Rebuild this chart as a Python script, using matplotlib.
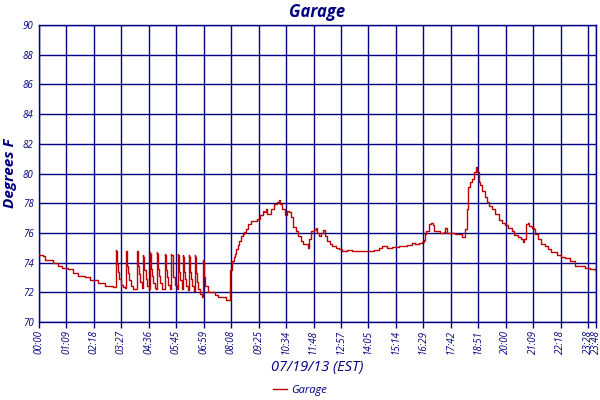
import matplotlib
matplotlib.use("Agg")
import matplotlib.pyplot as plt

NAVY = "#000080"
RED = "#c00000"

# tick labels (one tick every 69 one-minute samples, last at sample 1400)
tick_labels = ["00:00", "01:09", "02:18", "03:27", "04:36", "05:45", "06:59",
               "08:08", "09:25", "10:34", "11:48", "12:57", "14:05", "15:14",
               "16:29", "17:42", "18:51", "20:00", "21:09", "22:18", "23:28", "23:48"]
tick_samples = [0, 69, 138, 207, 276, 345, 414, 483, 552, 621, 690, 759, 828,
                897, 966, 1035, 1104, 1173, 1242, 1311, 1380, 1400]

# sample index / temperature (deg F) readings
sample = [0, 11, 15, 28, 36, 48, 57, 73, 86, 98, 115, 128, 149, 165, 186, 191,
          193, 194, 197, 199, 202, 206, 211,
          216, 218, 221, 223, 226, 230, 236,
          244, 246, 249, 251, 254, 258, 259,
          261, 262, 265, 268, 272, 276,
          278, 279, 282, 284, 287, 291, 294,
          296, 297, 300, 302, 305, 309, 314,
          316, 317, 320, 322, 325, 330,
          332, 333, 336, 338, 341, 347,
          349, 350, 353, 355, 359,
          361, 362, 365, 367, 370, 374,
          376, 377, 380, 382, 385, 389,
          391, 392, 395, 397, 400, 404, 409,
          411, 412, 415, 418, 424, 433, 442, 450, 469, 477,
          480, 481, 484, 489, 493, 495, 499, 503, 508, 512, 516, 520, 526, 533,
          545, 549, 556, 562, 566, 570, 574, 583, 591, 598, 602, 606, 612, 618,
          623, 629, 633, 639, 645, 651, 658, 664, 675, 679, 683, 691, 695, 699,
          704, 710, 715, 720, 725, 731, 737, 746, 754, 762, 775, 787, 808, 829,
          842, 854, 862, 875, 887, 904, 917, 925, 937, 946, 954, 963, 967, 969,
          973, 979, 985, 990, 994, 1000, 1009, 1017, 1021, 1025, 1038, 1046,
          1054, 1063, 1067, 1071, 1075, 1079, 1084, 1089, 1094, 1099, 1102, 1105,
          1109, 1113, 1120, 1125, 1131, 1138, 1146, 1155, 1163, 1171, 1180, 1188,
          1195, 1203, 1211, 1217, 1220, 1224, 1228, 1232, 1238, 1244, 1247, 1255,
          1263, 1272, 1280, 1288, 1301, 1313, 1322, 1334, 1347, 1359, 1372, 1384,
          1397]
temp = [74.5, 74.45, 74.2, 74.15, 74.0, 73.8, 73.65, 73.55, 73.3, 73.1, 73.0, 72.8,
        72.6, 72.45, 72.35, 72.35,
        74.85, 74.8, 73.9, 73.4, 72.9, 72.5, 72.35,
        72.3, 74.8, 73.8, 73.3, 72.8, 72.4, 72.25,
        72.25, 74.8, 73.8, 73.2, 72.7, 72.3, 72.3,
        74.5, 74.4, 73.5, 72.9, 72.4, 72.25,
        74.7, 74.6, 73.6, 73.1, 72.6, 72.3, 72.2,
        74.7, 74.6, 73.6, 73.1, 72.6, 72.25, 72.2,
        74.6, 74.5, 73.5, 73.0, 72.5, 72.2,
        74.6, 74.5, 73.5, 73.0, 72.5, 72.2,
        74.6, 74.5, 73.4, 72.8, 72.2,
        74.5, 74.4, 73.4, 72.9, 72.4, 72.15,
        74.5, 74.4, 73.4, 72.9, 72.4, 72.1,
        74.5, 74.4, 73.3, 72.7, 72.2, 71.9, 71.7,
        74.2, 74.1, 73.05, 72.4, 72.05, 72.0, 71.8, 71.65, 71.5, 71.5,
        72.6, 73.5, 74.1, 74.35, 74.55, 74.9, 75.2, 75.45, 75.8, 75.9, 76.05,
        76.25, 76.6, 76.8,
        76.8, 76.95, 77.2, 77.5, 77.4, 77.6, 77.3, 77.6, 77.95, 78.1, 78.2, 77.95,
        77.6, 77.2,
        77.5, 77.4, 77.05, 76.4, 76.15, 75.8, 75.45, 75.25, 75.0, 75.6, 76.1,
        76.2, 76.3, 76.0,
        75.8, 76.0, 76.2, 75.8, 75.45, 75.25, 75.1, 74.95, 74.9, 74.8, 74.85,
        74.8, 74.75, 74.8,
        74.85, 74.95, 75.1, 75.0, 75.05, 75.1, 75.15, 75.2, 75.3, 75.25, 75.35,
        75.4, 75.5, 75.95,
        76.15, 76.6, 76.65, 76.5, 76.15, 76.1, 76.0, 76.05, 76.3, 76.0, 76.0,
        75.95,
        75.9, 75.75, 75.7, 76.25, 77.6, 79.1, 79.4, 79.65, 80.1, 80.45, 80.1,
        79.4,
        79.2, 78.85, 78.4, 78.05, 77.8, 77.6, 77.25, 76.85, 76.65, 76.5, 76.35,
        76.15,
        75.85, 75.7, 75.6, 75.4, 75.6, 76.6, 76.7, 76.45, 76.3, 76.25, 75.9,
        75.6,
        75.25, 75.1, 74.9, 74.7, 74.5, 74.4, 74.3, 74.1, 73.8, 73.75, 73.65,
        73.6, 73.5]

y_ticks = [70, 72, 74, 76, 78, 80, 82, 84, 86, 88, 90]

plt.rcParams['font.family'] = ['Open Sans', 'DejaVu Sans']

fig = plt.figure(figsize=(6, 4), dpi=100)
ax = fig.add_axes([39 / 600, 78 / 400, 557 / 600, 297 / 400])

ax.plot(sample, temp, color=RED, lw=1.0, label="Garage", zorder=3,
        drawstyle='steps-post')

ax.set_xlim(0, 1400)
ax.set_ylim(70, 90)
ax.set_xticks(tick_samples)
ax.set_xticklabels(tick_labels, rotation=90, fontsize=7, style='italic', color=NAVY)
ax.set_yticks(y_ticks)
ax.set_yticklabels([str(v) for v in y_ticks], fontsize=7, style='italic', color=NAVY)
ax.tick_params(axis='x', length=4, color=NAVY, pad=2, width=1)
ax.tick_params(axis='y', length=0, pad=4)
ax.grid(True, color=NAVY, lw=1)
ax.set_axisbelow(True)
for s in ax.spines.values():
    s.set_color(NAVY)
    s.set_linewidth(1)

ax.set_title("Garage", fontsize=12, style='italic', fontweight='bold', color=NAVY, pad=6)
ax.set_ylabel("Degrees F", fontsize=11, style='italic', fontweight='bold', color=NAVY, labelpad=4)
ax.set_xlabel("07/19/13 (EST)", fontsize=10.5, style='italic', color=NAVY, labelpad=4)

fig.legend(loc='lower center', bbox_to_anchor=(0.5, -0.015), frameon=False,
           prop={'style': 'italic', 'size': 8}, handlelength=1.2,
           handletextpad=0.4, labelcolor=NAVY)

fig.savefig("out.png", dpi=100)
